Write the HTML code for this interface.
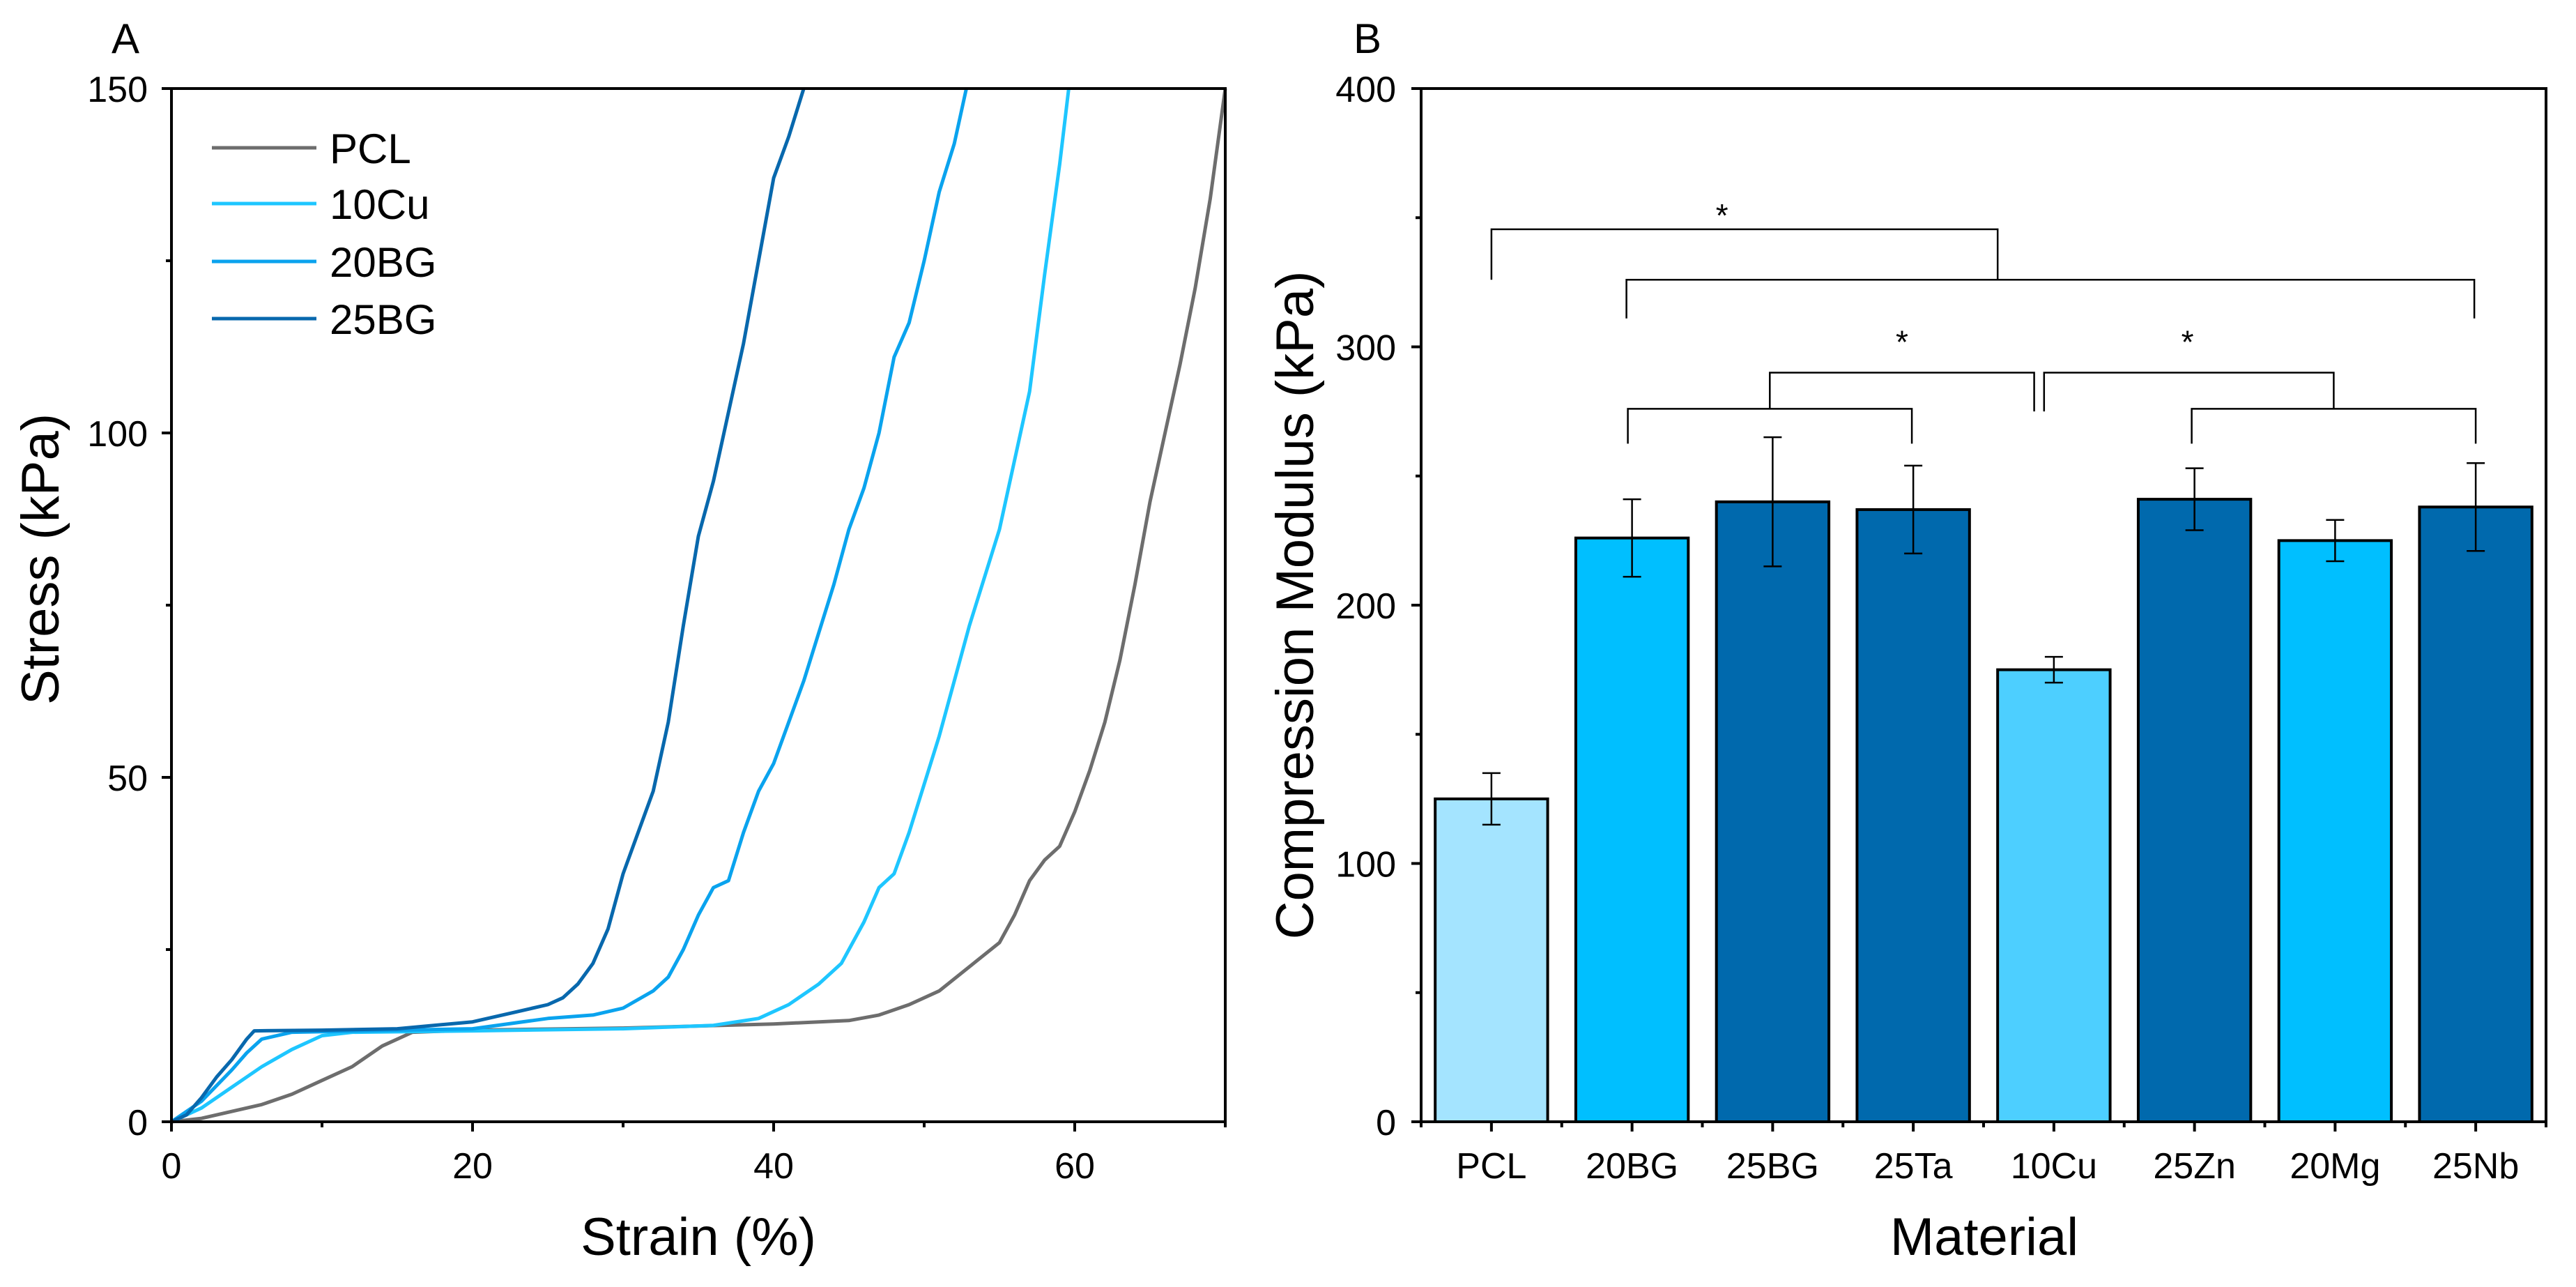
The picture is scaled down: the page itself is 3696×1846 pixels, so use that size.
<!DOCTYPE html>
<html><head><meta charset="utf-8"><style>
html,body{margin:0;padding:0;background:#fff}
svg{display:block;font-family:"Liberation Sans",Arial,sans-serif}
</style></head><body>
<svg id="fig" width="3696" height="1846" viewBox="0 0 3696 1846"></svg>
<script>
// ---------- Panel A data ----------
const pclStrain=[0,2,4,6,8,10,12,14,16,20,30,40,45,47,49,51,53,55,56,57,58,59,60,61,62,63,64,65,66,67,68,69,70];
const pclStress=[0,0.5,1.5,2.5,4,6,8,11,13,13.3,13.6,14.2,14.7,15.5,17,19,22.5,26,30,35,38,40,45,51,58,67,78,90,100,110,121,134,150];
const cuStrain=[0,2,4,6,8,10,12,20,30,36,39,41,43,44.5,46,47,48,49,50,51,52,53,54,55,56,57,58,59,59.6];
const cuStress=[0,2,5,8,10.5,12.5,13,13.2,13.5,14,15,17,20,23,29,34,36,42,49,56,64,72,79,86,96,106,123,139,150];
const bg20Strain=[0,2,4,5,6,8,20,25,28,30,32,33,34,35,36,37,38,39,40,41,42,43,44,45,46,47,48,49,50,51,52,52.8];
const bg20Stress=[0,3,7.5,10,12,13,13.5,15,15.5,16.5,19,21,25,30,34,35,42,48,52,58,64,71,78,86,92,100,111,116,125,135,142,150];
const bg25Strain=[0,1,2,3,4,5,5.5,10,15,20,23,25,26,27,28,29,30,31,32,33,34,35,36,37,38,39,40,41,42];
const bg25Stress=[0,1,3.5,6.5,9,12,13.2,13.3,13.5,14.5,16,17,18,20,23,28,36,42,48,58,72,85,93,103,113,125,137,143,150];
const seriesNames=["PCL","10Cu","20BG","25BG"];
const seriesColors=["#6d6d6d","#1ec6ff","#0aa3ee","#0868ad"];
const xTicksA=[0,20,40,60]; const yTicksA=[0,50,100,150];
// ---------- Panel B data ----------
const materials=["PCL","20BG","25BG","25Ta","10Cu","25Zn","20Mg","25Nb"];
const modulus=[125,226,240,237,175,241,225,238];
const modErr=[10,15,25,17,5,12,8,17];
const barColors=["#a4e4ff","#00bfff","#0069ad","#0069ad","#4dcfff","#0069ad","#00bfff","#0069ad"];
const yTicksB=[0,100,200,300,400];

const NS="http://www.w3.org/2000/svg";
const svg=document.getElementById('fig');
function mk(tag,attrs,parent){const e=document.createElementNS(NS,tag);for(const k in attrs)e.setAttribute(k,attrs[k]);(parent||svg).appendChild(e);return e;}
function txt(s,attrs){const t=mk('text',attrs);t.textContent=s;return t;}
const TF=52, AF=76;

// ===== Panel A =====
const A={x0:246,x1:1758,y0:1609,y1:127};
const ax=v=>A.x0+v/70*(A.x1-A.x0);
const ay=v=>A.y0-v/150*(A.y0-A.y1);
const gA=mk('g',{});


const allX=[pclStrain,cuStrain,bg20Strain,bg25Strain], allY=[pclStress,cuStress,bg20Stress,bg25Stress];
for(let s=0;s<4;s++){
  const pts=allX[s].map((x,i)=>ax(x).toFixed(1)+','+ay(allY[s][i]).toFixed(1)).join(' ');
  const p=mk('polyline',{points:pts,fill:'none',stroke:seriesColors[s],'stroke-width':5,'stroke-linejoin':'round'},gA);
  
  
}
const frA=mk('rect',{x:A.x0,y:A.y1,width:A.x1-A.x0,height:A.y0-A.y1,fill:'none',stroke:'#000','stroke-width':4});


for(let v=0;v<=70;v+=10){const x=ax(v);mk('line',{x1:x,x2:x,y1:A.y0,y2:A.y0+(v%20===0?14:8),stroke:'#000','stroke-width':4});}
for(let v=0;v<=150;v+=25){const y=ay(v);mk('line',{x1:A.x0,x2:A.x0-(v%50===0?14:8),y1:y,y2:y,stroke:'#000','stroke-width':4});}
xTicksA.forEach(v=>{const t=txt(v,{x:ax(v),y:1690,'font-size':TF,'text-anchor':'middle'});});
yTicksA.forEach(v=>{const t=txt(v,{x:212,y:ay(v)+19,'font-size':TF,'text-anchor':'end'});});
let t=txt('Strain (%)',{x:1002,y:1800,'font-size':AF,'text-anchor':'middle'});

t=txt('Stress (kPa)',{x:0,y:0,'font-size':AF,'text-anchor':'middle',transform:'translate(84,802) rotate(-90)'});

t=txt('A',{x:160,y:76,'font-size':60});

const legY=[212,292,375,457];
for(let s=0;s<4;s++){
  const g=mk('g',{});
  
  
  mk('line',{x1:304,x2:454,y1:legY[s],y2:legY[s],stroke:seriesColors[s],'stroke-width':5},g);
  const tt=mk('text',{x:473,y:legY[s]+22,'font-size':60},g);tt.textContent=seriesNames[s];
}

// ===== Panel B =====
const B={x0:2039,x1:3653,y0:1609,y1:127};
const step=(B.x1-B.x0)/8;
const bx=i=>B.x0+step*(i+0.5);
const by=v=>B.y0-v/400*(B.y0-B.y1);
const bw=step*0.8;
materials.forEach((m,i)=>{
  const r=mk('rect',{x:bx(i)-bw/2,y:by(modulus[i]),width:bw,height:B.y0-by(modulus[i]),fill:barColors[i],stroke:'#000','stroke-width':4});
  
  
  const g=mk('g',{stroke:'#000','stroke-width':2.5});
  
  
  const yt=by(modulus[i]+modErr[i]), yb=by(modulus[i]-modErr[i]);
  mk('line',{x1:bx(i),x2:bx(i),y1:yt,y2:yb},g);
  mk('line',{x1:bx(i)-13,x2:bx(i)+13,y1:yt,y2:yt},g);
  mk('line',{x1:bx(i)-13,x2:bx(i)+13,y1:yb,y2:yb},g);
  const lt=txt(m,{x:bx(i),y:1690,'font-size':TF,'text-anchor':'middle'});
  
});
const frB=mk('rect',{x:B.x0,y:B.y1,width:B.x1-B.x0,height:B.y0-B.y1,fill:'none',stroke:'#000','stroke-width':4});


for(let i=0;i<=8;i++){const x=B.x0+step*i;mk('line',{x1:x,x2:x,y1:B.y0,y2:B.y0+8,stroke:'#000','stroke-width':4});}
for(let i=0;i<8;i++){mk('line',{x1:bx(i),x2:bx(i),y1:B.y0,y2:B.y0+14,stroke:'#000','stroke-width':4});}
for(let v=0;v<=400;v+=50){const y=by(v);mk('line',{x1:B.x0,x2:B.x0-(v%100===0?14:8),y1:y,y2:y,stroke:'#000','stroke-width':4});}
yTicksB.forEach(v=>{const tt=txt(v,{x:2003,y:by(v)+19,'font-size':TF,'text-anchor':'end'});});
t=txt('Material',{x:2847,y:1800,'font-size':AF,'text-anchor':'middle'});

t=txt('Compression Modulus (kPa)',{x:0,y:0,'font-size':AF,'text-anchor':'middle',transform:'translate(1884,868) rotate(-90)'});

t=txt('B',{x:1942,y:76,'font-size':60});


// significance brackets (category index, value)
const brackets=[
 [[0,326],[0,345.5],[3.6,345.5],[3.6,326]],
 [[0.96,311],[0.96,326],[6.99,326],[6.99,311]],
 [[0.97,262.5],[0.97,276],[2.99,276],[2.99,262.5]],
 [[1.98,276],[1.98,290],[3.86,290],[3.86,275]],
 [[3.93,275],[3.93,290],[5.99,290],[5.99,276]],
 [[4.98,262.5],[4.98,276],[7.0,276],[7.0,262.5]]
];
brackets.forEach((b,k)=>{
  const p=mk('polyline',{points:b.map(q=>bx(q[0]).toFixed(1)+','+by(q[1]).toFixed(1)).join(' '),fill:'none',stroke:'#000','stroke-width':2.5});
  
  
});
const stars=[[1.64,352],[2.92,303],[4.95,303]];
stars.forEach(s=>{const st=txt('*',{x:bx(s[0]),y:by(s[1])+20,'font-size':46,'text-anchor':'middle'});});
</script>
</body></html>
